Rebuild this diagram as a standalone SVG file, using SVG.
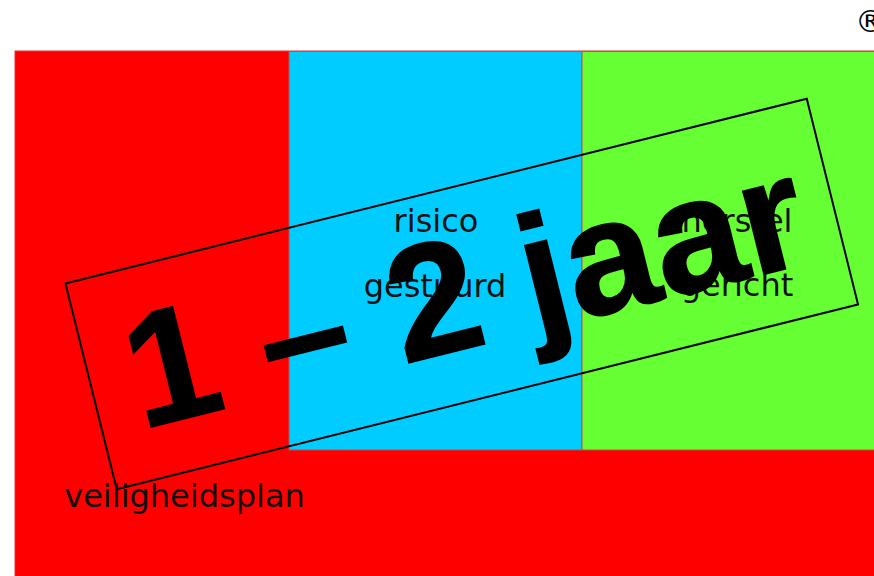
<svg xmlns="http://www.w3.org/2000/svg" width="874" height="576" viewBox="0 0 874 576">
<style>
.lbl{font-family:"DejaVu Sans",Verdana,sans-serif;font-size:32px;fill:#111;text-anchor:middle}
.big{font-family:"Liberation Sans",Arial,sans-serif;font-weight:bold;font-size:162px;fill:#000;text-anchor:middle;stroke:#000;stroke-width:1.5}
.col{stroke:#c84a4a;stroke-width:1}
</style>
<rect width="874" height="576" fill="#fff"/>
<g id="mark"><text x="855" y="32" style="font-family:'DejaVu Sans',sans-serif;font-size:31px;fill:#000">®</text></g>
<g id="veiligheidsplan">
<rect x="15" y="51" width="860" height="526" fill="#ff0000" stroke="#e83030" stroke-width="1"/>
<text class="lbl" x="184.5" y="507">veiligheidsplan</text>
</g>
<g id="risico">
<rect class="col" x="289" y="51.5" width="293" height="398.5" fill="#00ccff"/>
<text class="lbl" x="436" y="232">risico</text>
<text class="lbl" x="435" y="297">gestuurd</text>
</g>
<g id="herstel">
<rect class="col" x="582" y="51.5" width="293" height="398.5" fill="#66ff33"/>
<text class="lbl" x="737" y="232">herstel</text>
<text class="lbl" x="737" y="296">gericht</text>
</g>
<g id="connectors"/>
<g id="stamp" transform="translate(461.75 294) rotate(-14)">
<rect x="-382" y="-106" width="764" height="212" fill="none" stroke="#000" stroke-width="2"/>
<text class="big" x="3" y="54">1 – 2 jaar</text>
</g>
</svg>
